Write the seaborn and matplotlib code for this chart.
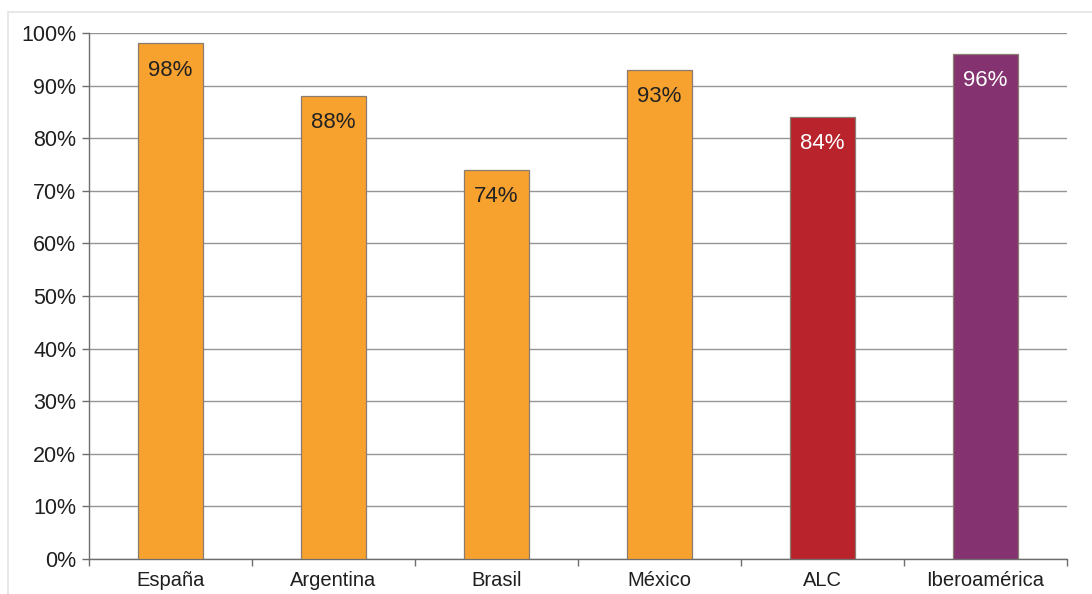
import matplotlib
matplotlib.use("Agg")
import matplotlib.pyplot as plt
from matplotlib.patches import Rectangle
from matplotlib.ticker import FixedLocator, PercentFormatter
import seaborn as sns
import pandas as pd

categories = ["España", "Argentina", "Brasil", "México", "ALC", "Iberoamérica"]
values = [98, 88, 74, 93, 84, 96]
bar_colors = ["#F7A12E", "#F7A12E", "#F7A12E", "#F7A12E", "#B8232C", "#843270"]
label_colors = ["#222222", "#222222", "#222222", "#222222", "white", "white"]
y_ticks = list(range(0, 101, 10))

sns.set_theme(style="white")
plt.rcParams["font.family"] = ["Liberation Sans", "DejaVu Sans"]

df = pd.DataFrame({"pais": categories, "valor": values})

fig = plt.figure(figsize=(10.92, 5.94), dpi=100)
ax = fig.add_axes([0.0815, 0.059, 0.8955, 0.8855])

# light frame around the chart area
fig.patches.append(Rectangle((8 / 1092, -0.05), 1.1, 1.05 - 12 / 594,
                             transform=fig.transFigure, fill=False,
                             edgecolor="#e4e4e4", linewidth=1.2))

sns.barplot(data=df, x="pais", y="valor", hue="pais", palette=bar_colors,
            legend=False, width=0.4, edgecolor="#8a7c70", linewidth=0.9,
            saturation=1, ax=ax, zorder=3)

ax.set_ylim(0, 100)
ax.set_xlim(-0.5, 5.5)
ax.set_yticks(y_ticks)
ax.yaxis.set_major_formatter(PercentFormatter(decimals=0))
ax.set_xlabel("")
ax.set_ylabel("")

ax.yaxis.grid(True, color="#959595", linewidth=1.0, zorder=0)
ax.xaxis.grid(False)
ax.set_axisbelow(True)

for side in ("top", "right"):
    ax.spines[side].set_visible(False)
for side in ("left", "bottom"):
    ax.spines[side].set_color("#6e6e6e")
    ax.spines[side].set_linewidth(1.0)

ax.tick_params(axis="y", which="major", left=True, length=5, width=1,
               color="#6e6e6e", labelsize=15.5, labelcolor="#1f1f1f", pad=4)
ax.tick_params(axis="x", which="major", bottom=False, labelsize=14.5,
               labelcolor="#1f1f1f", pad=3)
ax.xaxis.set_minor_locator(FixedLocator([i - 0.5 for i in range(len(categories) + 1)]))
ax.tick_params(axis="x", which="minor", bottom=True, length=5, width=1,
               color="#6e6e6e")

for i, (v, c) in enumerate(zip(values, label_colors)):
    ax.text(i, v - 5.1, f"{v}%", ha="center", va="center", fontsize=16,
            color=c, zorder=4)

fig.savefig("out.png", dpi=100)
